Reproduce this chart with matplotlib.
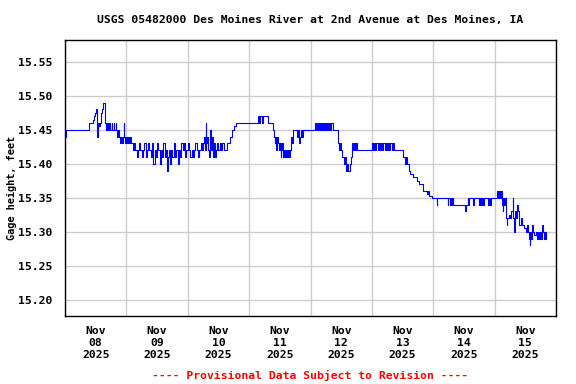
import matplotlib
matplotlib.use("Agg")
import matplotlib.pyplot as plt
from matplotlib.ticker import FixedLocator, FormatStrFormatter

# Hours since 2025-11-08 00:00 and gage height (ft)
hours = [
    0.0, 0.25, 9.5, 11.0, 11.5, 11.9, 12.2, 12.5, 12.75, 13.25, 13.75, 14.25, 14.5, 15.0, 15.6, 15.8,
    16.0, 16.25, 16.5, 16.75, 17.25, 17.5, 17.75, 18.25, 18.5, 19.0, 19.25, 19.75, 20.0, 20.4, 20.75,
    21.0, 21.5, 22.0, 22.25, 22.75, 23.0, 23.25, 23.5, 24.0, 24.25, 24.5,
    25.0, 25.5, 26.0, 26.5, 27.0, 27.5, 28.0, 28.5, 29.0, 29.5, 30.0, 30.5, 31.0, 31.5, 32.0, 32.5,
    33.0, 33.5, 34.0, 34.5, 35.0, 35.5, 36.0, 36.5, 37.0, 37.5, 38.0, 38.5, 39.0, 39.5, 39.9, 40.2,
    40.5, 41.0, 41.5, 42.0, 42.5, 43.0, 43.5, 44.0, 44.5, 45.0, 45.5, 46.0, 46.5, 47.0, 47.5, 48.0,
    48.5, 49.0, 49.5, 50.0, 50.5, 51.0, 51.5, 52.0, 52.5, 53.0, 53.5, 54.0, 54.3, 54.6, 55.0, 55.3,
    55.6, 56.0, 56.4, 56.8, 57.1, 57.5, 57.8, 58.2, 58.6, 59.0, 59.5, 60.0, 60.5, 61.0, 61.5, 62.0,
    63.5, 64.5, 65.25, 66.0, 66.75, 75.3, 76.0, 76.3, 77.0, 77.3, 79.4, 81.4, 81.7, 82.0, 82.3, 82.6,
    83.0, 83.3, 83.6, 84.0, 84.3, 84.6, 85.0, 85.3, 85.6, 86.0, 86.5, 86.8, 87.2, 87.6, 88.0, 88.4,
    88.8, 89.0, 89.3, 90.8, 91.1, 91.5, 91.9, 92.3, 92.7, 93.2, 97.9, 98.2, 98.6, 99.0, 99.3, 99.8,
    100.1, 100.5, 100.9, 101.4, 101.7, 102.2, 102.5, 103.0, 103.3, 103.8, 104.1, 104.9, 106.9, 107.3,
    107.7, 108.1, 108.5, 109.0, 109.6, 110.0, 110.4, 110.8, 111.6, 112.0, 112.4, 112.8, 113.2, 113.5,
    113.9, 114.2, 120.2, 120.5, 120.9, 121.3, 121.8, 122.2, 122.6, 123.1, 123.5, 124.0, 124.5, 125.0,
    125.4, 125.9, 126.3, 126.8, 127.2, 127.7, 128.1, 128.6, 132.3, 132.8, 133.4, 133.9, 134.5, 135.0,
    135.9, 137.8, 138.6, 139.8, 141.7, 142.1, 142.5, 143.7, 145.3, 145.6, 149.6, 149.9, 150.7, 151.0,
    151.3, 151.6, 151.9, 156.6, 157.0, 157.4, 157.7, 158.0, 159.7, 160.0, 161.7, 162.0, 162.3, 162.6,
    162.9, 163.2, 163.6, 164.0, 165.6, 165.9, 166.2, 166.5, 169.1, 169.4, 169.7, 170.0, 170.4, 170.7,
    171.0, 171.2, 171.4, 171.7, 172.0, 172.3, 172.7, 173.0, 173.5, 174.0, 174.4, 175.0, 175.3, 175.6,
    175.9, 176.3, 176.6, 177.0, 177.4, 177.7, 178.2, 178.9, 179.5, 180.1, 180.5, 180.9, 181.3, 181.7,
    181.9, 182.3, 182.7, 183.0, 183.5, 184.0, 184.4, 184.8, 185.2, 185.7, 186.2, 186.6, 186.9, 187.3,
    187.6, 188.0,
]
gage = [
    15.44, 15.45, 15.46, 15.465, 15.47, 15.475, 15.48, 15.44, 15.46, 15.455, 15.46, 15.475, 15.48, 15.49, 15.47, 15.46,
    15.45, 15.46, 15.45, 15.46, 15.45, 15.46, 15.45, 15.46, 15.45, 15.46, 15.45, 15.46, 15.45, 15.44, 15.45,
    15.44, 15.43, 15.44, 15.43, 15.44, 15.46, 15.44, 15.43, 15.44, 15.43, 15.44,
    15.43, 15.44, 15.43, 15.42, 15.43, 15.42, 15.41, 15.42, 15.43, 15.42, 15.41, 15.42, 15.43, 15.41, 15.42, 15.43,
    15.42, 15.41, 15.43, 15.40, 15.42, 15.41, 15.43, 15.42, 15.40, 15.42, 15.41, 15.43, 15.41, 15.42, 15.39, 15.41,
    15.42, 15.40, 15.42, 15.41, 15.43, 15.41, 15.42, 15.40, 15.42, 15.41, 15.43, 15.42, 15.43, 15.41, 15.42, 15.43,
    15.42, 15.41, 15.42, 15.41, 15.42, 15.43, 15.42, 15.41, 15.42, 15.43, 15.42, 15.43, 15.44, 15.42, 15.46, 15.43,
    15.44, 15.42, 15.41, 15.45, 15.42, 15.44, 15.41, 15.43, 15.41, 15.42, 15.43, 15.42, 15.43, 15.42, 15.43, 15.42,
    15.43, 15.44, 15.45, 15.455, 15.46, 15.47, 15.46, 15.47, 15.46, 15.47, 15.46, 15.45, 15.44, 15.43, 15.44, 15.42,
    15.44, 15.43, 15.42, 15.43, 15.41, 15.42, 15.43, 15.41, 15.42, 15.41, 15.42, 15.41, 15.42, 15.41, 15.42, 15.44,
    15.43, 15.44, 15.45, 15.44, 15.45, 15.43, 15.44, 15.45, 15.44, 15.45, 15.46, 15.45, 15.46, 15.45, 15.46, 15.45,
    15.46, 15.45, 15.46, 15.45, 15.46, 15.45, 15.46, 15.45, 15.46, 15.45, 15.46, 15.45, 15.43, 15.42,
    15.43, 15.42, 15.41, 15.40, 15.41, 15.39, 15.40, 15.39, 15.40, 15.41, 15.43, 15.42, 15.43, 15.42,
    15.43, 15.42, 15.43, 15.42, 15.43, 15.42, 15.43, 15.42, 15.43, 15.42, 15.43, 15.42, 15.43, 15.42,
    15.43, 15.42, 15.43, 15.42, 15.43, 15.42, 15.43, 15.42, 15.41, 15.40, 15.41, 15.40, 15.39, 15.385,
    15.38, 15.375, 15.37, 15.36, 15.355, 15.36, 15.352, 15.35, 15.34, 15.35, 15.34, 15.35, 15.34, 15.35,
    15.34, 15.35, 15.34, 15.33, 15.34, 15.35, 15.34, 15.35, 15.34, 15.35, 15.34, 15.35, 15.34, 15.35,
    15.34, 15.35, 15.34, 15.35, 15.34, 15.35, 15.34, 15.35, 15.36, 15.35, 15.36, 15.35, 15.36, 15.35,
    15.34, 15.33, 15.35, 15.34, 15.35, 15.32, 15.31, 15.32, 15.325, 15.32, 15.33, 15.35, 15.32, 15.30,
    15.33, 15.32, 15.34, 15.33, 15.32, 15.31, 15.32, 15.31, 15.305, 15.30, 15.31, 15.30, 15.29, 15.28,
    15.30, 15.29, 15.31, 15.30, 15.295, 15.30, 15.29, 15.30, 15.29, 15.30, 15.29, 15.31, 15.30, 15.29,
    15.30, 15.29,
]

day_labels = ["Nov\n08\n2025", "Nov\n09\n2025", "Nov\n10\n2025", "Nov\n11\n2025",
              "Nov\n12\n2025", "Nov\n13\n2025", "Nov\n14\n2025", "Nov\n15\n2025"]
y_ticks = [15.20, 15.25, 15.30, 15.35, 15.40, 15.45, 15.50, 15.55]

title = "USGS 05482000 Des Moines River at 2nd Avenue at Des Moines, IA"
ylabel = "Gage height, feet"
footer = "---- Provisional Data Subject to Revision ----"

FONT = "DejaVu Sans Mono"
FS = 8.2

fig = plt.figure(figsize=(5.76, 3.84), dpi=100)
ax = fig.add_axes([65/576, 1 - 316/384, (556-65)/576, (316-40)/384])

ax.plot(hours, gage, drawstyle="steps-post", color="#0000ff", linewidth=0.8, zorder=3)

ax.set_xlim(0, 192)
ax.set_ylim(15.176, 15.582)

n_days = len(day_labels)
ax.xaxis.set_major_locator(FixedLocator([24 * i for i in range(n_days + 1)]))
ax.xaxis.set_minor_locator(FixedLocator([24 * i + 12 for i in range(n_days)]))
ax.set_xticklabels([])
ax.set_xticklabels(day_labels, minor=True)
ax.tick_params(axis="x", which="both", length=0, pad=7)
ax.set_yticks(y_ticks)
ax.yaxis.set_major_formatter(FormatStrFormatter("%.2f"))
ax.tick_params(axis="y", length=0, pad=9)

for lab in ax.get_xticklabels(minor=True):
    lab.set_fontfamily(FONT)
    lab.set_fontweight("bold")
    lab.set_fontsize(FS)
    lab.set_linespacing(1.25)
for lab in ax.get_yticklabels():
    lab.set_fontfamily(FONT)
    lab.set_fontweight("bold")
    lab.set_fontsize(FS)

ax.grid(True, which="major", color="#cccccc", linewidth=1.0, zorder=0)
for s in ax.spines.values():
    s.set_color("black")
    s.set_linewidth(1.0)

fig.text(12/576, 1 - 188/384, ylabel, rotation=90, ha="center", va="center",
         fontfamily=FONT, fontweight="bold", fontsize=7.4)
fig.text(310/576, 1 - 20/384, title, ha="center", va="center",
         fontfamily=FONT, fontweight="bold", fontsize=FS)
fig.text(310/576, 1 - 375/384, footer, ha="center", va="center", color="red",
         fontfamily=FONT, fontweight="bold", fontsize=FS)

fig.savefig("out.png", dpi=100, facecolor="white")
